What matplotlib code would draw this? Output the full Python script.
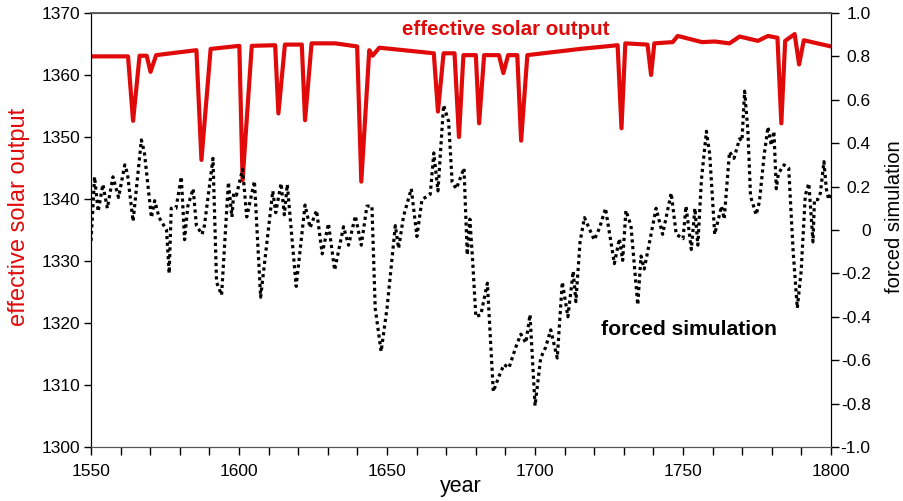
import matplotlib
matplotlib.use('Agg')
import matplotlib.pyplot as plt
from matplotlib.ticker import MultipleLocator, FixedLocator

plt.rcParams['font.family'] = ['Liberation Sans', 'DejaVu Sans']

# forced simulation (right axis), turning points
sim_years = [1550.0, 1551.2, 1552.4, 1554.0, 1555.5, 1557.4, 1559.3, 1561.4, 1562.3, 1564.2,
             1567.0, 1568.0, 1570.4, 1571.5, 1573.0, 1575.5, 1576.4, 1577.1, 1578.7, 1580.5,
             1581.6, 1582.7, 1584.5, 1585.6, 1587.5, 1588.3, 1591.2, 1592.4, 1594.1, 1596.4,
             1597.6, 1598.2, 1599.1, 1601.2, 1602.6, 1605.2, 1607.3, 1608.8, 1611.4, 1612.4,
             1614.2, 1615.3, 1616.3, 1619.3, 1622.3, 1624.0, 1626.2, 1628.1, 1630.2, 1632.3,
             1635.3, 1637.0, 1639.3, 1641.3, 1643.2, 1644.9, 1646.0, 1648.0, 1650.0, 1652.8,
             1653.9, 1655.6, 1658.2, 1660.1, 1661.8, 1664.6, 1665.8, 1667.2, 1669.1, 1670.8,
             1672.0, 1673.4, 1676.0, 1677.1, 1678.0, 1679.0, 1680.0, 1681.7, 1683.9, 1685.9,
             1687.8, 1689.5, 1691.2, 1693.5, 1695.2, 1696.9, 1698.3, 1700.0, 1701.9, 1703.6,
             1705.3, 1707.5, 1709.2, 1711.1, 1712.9, 1713.8, 1715.2, 1716.7, 1720.0, 1721.8,
             1723.8, 1726.8, 1728.5, 1729.6, 1730.7, 1732.4, 1734.7, 1735.8, 1736.9, 1740.9,
             1743.1, 1746.0, 1747.7, 1750.0, 1751.0, 1752.8, 1754.0, 1755.0, 1756.2, 1757.9,
             1759.0, 1760.7, 1763.0, 1763.9, 1765.7, 1767.2, 1769.1, 1769.9, 1770.8, 1771.9,
             1772.8, 1773.6, 1774.7, 1775.8, 1777.4, 1778.7, 1779.8, 1780.7, 1781.5, 1782.2,
             1784.1, 1785.7, 1787.2, 1788.6, 1789.9, 1791.3, 1792.5, 1793.9, 1794.4, 1795.5,
             1796.4, 1797.6, 1798.4, 1799.2, 1800.0]
sim_values = [-0.05, 0.245, 0.085, 0.21, 0.10, 0.245, 0.15, 0.30, 0.26, 0.04,
              0.415, 0.36, 0.057, 0.135, 0.057, 0.0, -0.20, 0.10, 0.10, 0.245,
              -0.045, 0.11, 0.19, 0.02, -0.02, 0.02, 0.33, -0.24, -0.30, 0.22,
              0.06, 0.17, 0.16, 0.28, 0.06, 0.225, -0.31, -0.13, 0.18, 0.08,
              0.215, 0.07, 0.21, -0.26, 0.115, 0.01, 0.09, -0.11, 0.03, -0.185,
              0.015, -0.07, 0.065, -0.07, 0.11, 0.11, -0.36, -0.56, -0.36, 0.02,
              -0.085, 0.065, 0.19, -0.03, 0.14, 0.165, 0.355, 0.18, 0.575, 0.50,
              0.22, 0.19, 0.285, -0.115, 0.05, -0.16, -0.40, -0.39, -0.245, -0.745,
              -0.675, -0.62, -0.635, -0.54, -0.48, -0.52, -0.39, -0.81, -0.59, -0.54,
              -0.46, -0.59, -0.24, -0.40, -0.19, -0.33, -0.055, 0.057, -0.046, 0.01,
              0.10, -0.155, -0.04, -0.14, 0.09, 0.02, -0.345, -0.12, -0.18, 0.10,
              -0.02, 0.17, -0.02, -0.04, 0.11, -0.09, 0.10, -0.07, 0.23, 0.455,
              0.35, -0.02, 0.11, 0.05, 0.36, 0.33, 0.42, 0.41, 0.64, 0.46,
              0.155, 0.12, 0.07, 0.13, 0.345, 0.475, 0.39, 0.455, 0.19, 0.26,
              0.30, 0.285, -0.10, -0.36, -0.19, 0.16, 0.215, -0.055, 0.14, 0.14,
              0.17, 0.315, 0.19, 0.14, 0.17]

# effective solar output (left axis)
sol_years = [1550.0, 1562.5, 1564.2, 1566.4, 1568.8, 1570.1, 1572.0, 1585.6, 1587.3, 1590.4,
             1600.1, 1601.2, 1604.3, 1612.2, 1613.3, 1615.5, 1621.2, 1622.3, 1624.5, 1632.5,
             1639.9, 1641.3, 1644.0, 1645.1, 1647.4, 1665.8, 1667.2, 1669.1, 1672.8, 1674.3,
             1675.8, 1680.0, 1681.1, 1682.8, 1687.8, 1689.3, 1690.9, 1694.0, 1695.3, 1697.4,
             1715.2, 1727.9, 1729.2, 1730.5, 1738.0, 1739.2, 1740.3, 1746.5, 1748.2, 1756.4,
             1760.7, 1765.7, 1769.1, 1775.3, 1778.7, 1781.9, 1783.2, 1784.5, 1787.7, 1789.2,
             1790.8, 1800.0]
sol_values = [1363.0, 1363.0, 1352.6, 1363.1, 1363.1, 1360.5, 1363.2, 1364.0, 1346.3, 1364.2,
              1364.7, 1343.0, 1364.7, 1364.8, 1353.8, 1364.9, 1364.9, 1352.7, 1365.1, 1365.1,
              1364.6, 1342.8, 1364.0, 1363.1, 1364.4, 1363.5, 1354.1, 1363.5, 1363.5, 1350.0,
              1363.2, 1363.2, 1352.2, 1363.2, 1363.2, 1360.3, 1363.2, 1363.2, 1349.4, 1363.2,
              1364.2, 1364.8, 1351.4, 1365.1, 1364.9, 1360.0, 1365.1, 1365.3, 1366.3, 1365.3,
              1365.4, 1365.1, 1366.2, 1365.5, 1366.3, 1366.0, 1352.2, 1365.5, 1366.6, 1361.7,
              1365.6, 1364.6]

right_ticks = [-1.0, -0.8, -0.6, -0.4, -0.2, 0.0, 0.2, 0.4, 0.6, 0.8, 1.0]
right_labels = ['-1.0', '-0.8', '-0.6', '-0.4', '-0.2', '0', '0.2', '0.4', '0.6', '0.8', '1.0']

red = '#e00a0a'

fig = plt.figure(figsize=(9.04, 5.01), dpi=100)
ax = fig.add_axes([0.1007, 0.1078, 0.8186, 0.8663])
ax2 = ax.twinx()

ax.plot(sol_years, sol_values, color=red, lw=3.0, solid_joinstyle='round')
ax2.plot(sim_years, sim_values, color='black', lw=2.3, dashes=(1.0, 1.1))

ax.set_xlim(1550, 1800)
ax.set_ylim(1300, 1370)
ax2.set_ylim(-1.0, 1.0)

ax.xaxis.set_major_locator(MultipleLocator(50))
ax.xaxis.set_minor_locator(MultipleLocator(10))
ax.yaxis.set_major_locator(MultipleLocator(10))
ax2.yaxis.set_major_locator(FixedLocator(right_ticks))
ax2.set_yticklabels(right_labels)

ax.tick_params(axis='x', which='both', direction='out', length=6, width=1, pad=6, labelsize=12.5)
ax.tick_params(axis='y', direction='out', length=5, width=1, pad=3, labelsize=12.5)
ax2.tick_params(axis='y', direction='out', length=5.5, width=1, pad=23, labelsize=12.5)
for lab in ax2.get_yticklabels():
    lab.set_ha('right')

for s in ['top', 'bottom']:
    ax.spines[s].set_color('#555555')
    ax2.spines[s].set_color('#555555')
ax.spines['top'].set_linewidth(1.3)

ax.set_xlabel('year', fontsize=15.5, labelpad=-2)
ax.set_ylabel('effective solar output', fontsize=17, color=red)
ax.yaxis.set_label_coords(-0.082, 0.53)
ax2.set_ylabel('forced simulation', fontsize=14.5)
ax2.yaxis.set_label_coords(1.073, 0.53)

ax.text(1690, 1367.3, 'effective solar output', color=red, fontsize=14.8, fontweight='bold',
        ha='center', va='center')
ax2.text(1752, -0.46, 'forced simulation', color='black', fontsize=15.2, fontweight='bold',
         ha='center', va='center')

fig.savefig('out.png', dpi=100)
